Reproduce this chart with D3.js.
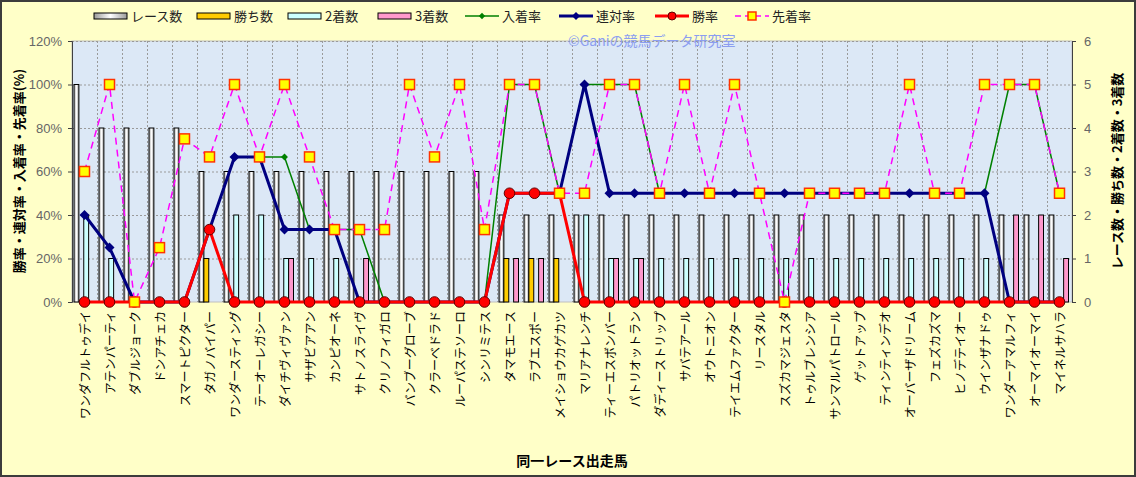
<!DOCTYPE html>
<html>
<head>
<meta charset="utf-8">
<script src="https://cdn.jsdelivr.net/npm/d3@7"></script>
<style>
  html, body { margin: 0; padding: 0; background: #ffffc8; }
  svg { display: block; font-family: "Noto Sans CJK JP", "Noto Sans", sans-serif; }
</style>
</head>
<body>
<svg id="chart"></svg>
<script>
// 出走馬
var horses = ['ワンダフルトゥデイ','アテンパーティ','ダブルジョーク','ドンアチェカ','スマートピクター',
  'タガノバイパー','ワンダースティング','テーオーレガシー','ダイチヴィヴァン','サザビアアン',
  'カンピオーネ','サトノスライヴ','クリノフィガロ','バンブーグローブ','クラーベドラド',
  'ルーパステソーロ','シンリミテス','タマモエース','ラブエスポー','メイショウカゲカツ',
  'マリアナレンチ','ティーエスボンバー','パトリオットラン','ダディーストリップ','サバテアール',
  'オウトニオン','テイエムファクター','リースタル','スズカマジェスタ','トゥルブレンシア',
  'サンマルパトロール','ゲットアップ','ティンティンデオ','オーバーザドリーム','フェズカズマ',
  'ヒノデテイオー','ウインザナドゥ','ワンダーアマルフィ','オーマイオーマイ','マイネルサハラ'];

// 回数 (右軸)
var races   = [5,4,4,4,4, 3,3,3,3,3, 3,3,3,3,3, 3,3,2,2,2, 2,2,2,2,2, 2,2,2,2,2, 2,2,2,2,2, 2,2,2,2,2];
var wins    = [0,0,0,0,0, 1,0,0,0,0, 0,0,0,0,0, 0,0,1,1,1, 0,0,0,0,0, 0,0,0,0,0, 0,0,0,0,0, 0,0,0,0,0];
var seconds = [2,1,0,0,0, 0,2,2,1,1, 1,0,0,0,0, 0,0,0,0,0, 2,1,1,1,1, 1,1,1,1,1, 1,1,1,1,1, 1,1,0,0,0];
var thirds  = [0,0,0,0,0, 0,0,0,1,0, 0,1,0,0,0, 0,0,1,1,0, 0,1,1,0,0, 0,0,0,0,0, 0,0,0,0,0, 0,0,2,2,1];

// 率 (左軸, %)
var nyuchaku = [40,25,0,0,0, 33.3,66.7,66.7,66.7,33.3, 33.3,33.3,0,0,0, 0,0,100,100,50,
                100,100,100,50,50, 50,50,50,50,50, 50,50,50,50,50, 50,50,100,100,50];
var rentai   = [40,25,0,0,0, 33.3,66.7,66.7,33.3,33.3, 33.3,0,0,0,0, 0,0,50,50,50,
                100,50,50,50,50, 50,50,50,50,50, 50,50,50,50,50, 50,50,0,0,0];
var shoritsu = [0,0,0,0,0, 33.3,0,0,0,0, 0,0,0,0,0, 0,0,50,50,50,
                0,0,0,0,0, 0,0,0,0,0, 0,0,0,0,0, 0,0,0,0,0];
var senchaku = [60,100,0,25,75, 66.7,100,66.7,100,66.7, 33.3,33.3,33.3,100,66.7, 100,33.3,100,100,50,
                50,100,100,50,100, 50,100,50,0,50, 50,50,50,100,50, 50,100,100,100,50];

var pctTicks = [0,20,40,60,80,100,120];
var cntTicks = [0,1,2,3,4,5,6];

var W = 1136, H = 477;
var L = 72, R = 1072, T = 41, B = 302;

var svg = d3.select('#chart').attr('width', W).attr('height', H);
var defs = svg.append('defs');

var grad = defs.append('linearGradient').attr('id','raceGrad')
  .attr('x1','0%').attr('x2','100%').attr('y1','0%').attr('y2','0%');
grad.append('stop').attr('offset','0%').attr('stop-color','#9a9a9a');
grad.append('stop').attr('offset','50%').attr('stop-color','#ffffff');
grad.append('stop').attr('offset','100%').attr('stop-color','#9a9a9a');

// 背景
svg.append('rect').attr('x',1).attr('y',1).attr('width',W-2).attr('height',H-2)
  .attr('fill','#ffffc8').attr('stroke','#3c3c3c').attr('stroke-width',2);
svg.append('rect').attr('x',L).attr('y',T).attr('width',R-L).attr('height',B-T)
  .attr('fill','#dce8f6').attr('stroke','#c0c0c0');

var x0 = d3.scaleBand().domain(horses).range([L, R]).padding(0);
var x1 = d3.scaleBand().domain(['races','wins','seconds','thirds']).range([2, 21.5]);
var yP = d3.scaleLinear().domain([0,120]).range([B, T]);
var yC = d3.scaleLinear().domain([0,6]).range([B, T]);
var cx = function(d, i) { return x0(horses[i]) + x0.bandwidth()/2; };

// グリッド
var grid = svg.append('g').attr('stroke','#9a9a9a').attr('stroke-dasharray','2,2').attr('stroke-width',1);
grid.selectAll('line.h').data(pctTicks.slice(1)).join('line')
  .attr('x1',L).attr('x2',R).attr('y1',d => yP(d)+0.5).attr('y2',d => yP(d)+0.5);
grid.selectAll('line.v').data(horses.slice(1)).join('line')
  .attr('y1',T).attr('y2',B).attr('x1',d => x0(d)+0.5).attr('x2',d => x0(d)+0.5);

// 棒グラフ
var barSeries = [
  {key:'races', vals:races, fill:'url(#raceGrad)'},
  {key:'wins', vals:wins, fill:'#ffcc00'},
  {key:'seconds', vals:seconds, fill:'#ccffff'},
  {key:'thirds', vals:thirds, fill:'#ff99cc'}
];
barSeries.forEach(function(s) {
  svg.append('g').selectAll('rect').data(s.vals).join('rect')
    .attr('x', (d,i) => x0(horses[i]) + x1(s.key))
    .attr('width', x1.bandwidth())
    .attr('y', d => yC(d))
    .attr('height', d => B - yC(d))
    .attr('fill', s.fill)
    .attr('stroke','#000').attr('stroke-width',1)
    .style('display', d => d > 0 ? null : 'none');
});

// 軸
var axL = svg.append('g').attr('transform','translate(' + L + ',0)')
  .call(d3.axisLeft(yP).tickValues(pctTicks).tickSize(4).tickFormat(d => d + '%'));
var axR = svg.append('g').attr('transform','translate(' + R + ',0)')
  .call(d3.axisRight(yC).tickValues(cntTicks).tickSize(4).tickFormat(d3.format('d')));
[axL, axR].forEach(function(a) {
  a.select('.domain').attr('stroke','#404040');
  a.selectAll('.tick line').attr('stroke','#404040');
  a.selectAll('.tick text').attr('fill','#666').style('font-size','13px')
    .style('font-family','"Liberation Sans", Arial, sans-serif');
});
axL.selectAll('.tick text').attr('x', -10);
axR.selectAll('.tick text').attr('x', 12);

// 折れ線
var line = d3.line().x((d,i) => cx(d,i)).y(d => yP(d));
var square = d3.symbol().type(d3.symbolSquare);

function lineSeries(vals, color, width, dash) {
  var g = svg.append('g');
  g.append('path').datum(vals).attr('d', line)
    .attr('fill','none').attr('stroke',color).attr('stroke-width',width)
    .attr('stroke-dasharray', dash || null).attr('stroke-linejoin','round');
  return g;
}

var gN = lineSeries(nyuchaku, '#008000', 1.5);
gN.selectAll('path.m').data(nyuchaku).join('path')
  .attr('transform',(d,i) => 'translate(' + cx(d,i) + ',' + yP(d) + ') rotate(45)')
  .attr('d', square.size(24)).attr('fill','#008000');

var gR = lineSeries(rentai, '#000080', 3);
gR.selectAll('path.m').data(rentai).join('path')
  .attr('transform',(d,i) => 'translate(' + cx(d,i) + ',' + yP(d) + ') rotate(45)')
  .attr('d', square.size(50)).attr('fill','#000080');

var gW = lineSeries(shoritsu, '#ff0000', 3);
gW.selectAll('circle').data(shoritsu).join('circle')
  .attr('cx',(d,i) => cx(d,i)).attr('cy', d => yP(d)).attr('r',5.3)
  .attr('fill','#ff0000').attr('stroke','#600000').attr('stroke-width',1);

var gS = lineSeries(senchaku, '#ff00ff', 1.5, '7,5');
gS.selectAll('rect').data(senchaku).join('rect')
  .attr('x',(d,i) => cx(d,i) - 5).attr('y', d => yP(d) - 5)
  .attr('width',10).attr('height',10)
  .attr('fill','#ffff00').attr('stroke','#ff3300').attr('stroke-width',1.5);

// 透かし
svg.append('text').attr('x',568).attr('y',46).text('©Ganiの競馬データ研究室')
  .attr('fill','#8c9ef0').style('font-size','14px');

// X軸ラベル
svg.append('g').selectAll('text').data(horses).join('text')
  .attr('transform',(d,i) => 'translate(' + (cx(d,i) + 1) + ',311) rotate(-90)')
  .attr('text-anchor','end').attr('dy','0.35em')
  .style('font-size','12px').attr('fill','#000').text(d => d);

// 軸タイトル
svg.append('text').attr('transform','translate(572,466)').attr('text-anchor','middle')
  .style('font-size','14px').style('font-weight','bold').text('同一レース出走馬');
svg.append('text').attr('transform','translate(19,171) rotate(-90)').attr('text-anchor','middle')
  .attr('dy','0.35em').style('font-size','13px').style('font-weight','bold')
  .text('勝率・連対率・入着率・先着率(%)');
svg.append('text').attr('transform','translate(1117,171) rotate(-90)').attr('text-anchor','middle')
  .attr('dy','0.35em').style('font-size','13px').style('font-weight','bold')
  .text('レース数・勝ち数・2着数・3着数');

// 凡例
var legendItems = [
  {name:'レース数', type:'bar', fill:'url(#raceGrad)', x:94},
  {name:'勝ち数', type:'bar', fill:'#ffcc00', x:197},
  {name:'2着数', type:'bar', fill:'#ccffff', x:288},
  {name:'3着数', type:'bar', fill:'#ff99cc', x:378},
  {name:'入着率', type:'nyu', x:465},
  {name:'連対率', type:'ren', x:559},
  {name:'勝率', type:'win', x:655},
  {name:'先着率', type:'sen', x:735}
];
var lg = svg.append('g').attr('transform','translate(0,16)');
legendItems.forEach(function(it) {
  var g = lg.append('g').attr('transform','translate(' + it.x + ',0)');
  if (it.type === 'bar') {
    g.append('rect').attr('x',0).attr('y',-3).attr('width',33).attr('height',6)
      .attr('fill', it.fill).attr('stroke','#000');
  } else if (it.type === 'nyu') {
    g.append('line').attr('x1',0).attr('x2',34).attr('stroke','#008000').attr('stroke-width',1.5);
    g.append('path').attr('transform','translate(17,0) rotate(45)').attr('d', square.size(20)).attr('fill','#008000');
  } else if (it.type === 'ren') {
    g.append('line').attr('x1',0).attr('x2',34).attr('stroke','#000080').attr('stroke-width',3);
    g.append('path').attr('transform','translate(17,0) rotate(45)').attr('d', square.size(32)).attr('fill','#000080');
  } else if (it.type === 'win') {
    g.append('line').attr('x1',0).attr('x2',34).attr('stroke','#ff0000').attr('stroke-width',3);
    g.append('circle').attr('cx',17).attr('r',4).attr('fill','#ff0000').attr('stroke','#600000');
  } else {
    g.append('line').attr('x1',0).attr('x2',34).attr('stroke','#ff00ff').attr('stroke-width',1.5)
      .attr('stroke-dasharray','6,4');
    g.append('rect').attr('x',13).attr('y',-4).attr('width',8).attr('height',8)
      .attr('fill','#ffff00').attr('stroke','#ff3300').attr('stroke-width',1.5);
  }
  g.append('text').attr('x',37).attr('dy','0.35em').style('font-size','13px')
    .attr('fill','#222').text(it.name);
});
</script>
</body>
</html>
